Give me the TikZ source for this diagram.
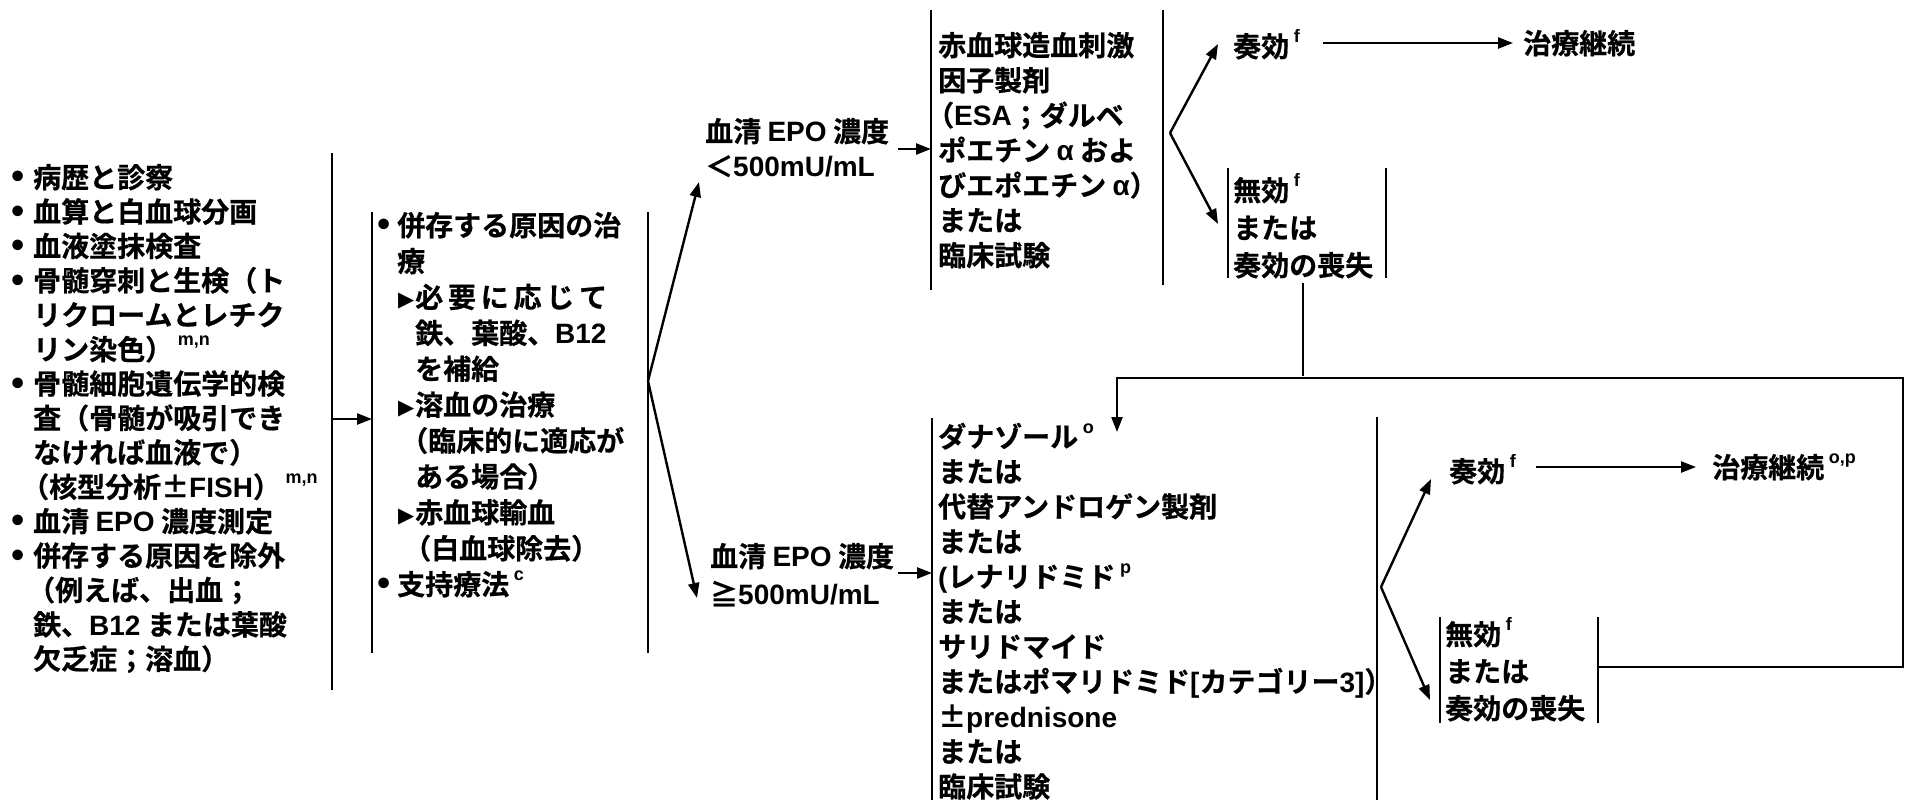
\documentclass[tikz,border=0pt]{standalone}
\usepackage{fontspec}
\setmainfont{Noto Sans CJK JP}[BoldFont={Noto Sans CJK JP Bold}, BoldFeatures={FakeBold=0.6}]
\newfontfamily\latf{Liberation Sans}[BoldFont={Liberation Sans Bold}]
\newfontfamily\dvf{DejaVu Sans}
\usetikzlibrary{arrows.meta}
\newcommand\la[1]{{\latf\bfseries #1}}
\newcommand\sups[1]{\,\raisebox{0.5em}{\latf\bfseries\fontsize{18}{18}\selectfont #1}}
\newcommand\mystrut{\rule{0pt}{24pt}}
\newcommand\mybul[1]{\mystrut\makebox[#1][l]{\hspace*{-2pt}\dvf\bfseries\fontsize{30}{30}\selectfont •}}
\newcommand\myind[1]{\mystrut\hspace*{#1}}
\newcommand\mytri{\mystrut\hspace*{22pt}\makebox[17pt][l]{\raisebox{1pt}{\dvf\fontsize{21}{21}\selectfont ▶}}}
\begin{document}
\begin{tikzpicture}[x=1pt,y=-1pt,
  txt/.style={anchor=north west, inner sep=0pt, align=left, font=\bfseries\fontsize{28}{35}\selectfont},
  bar/.style={line width=2.4pt},
  arr/.style={line width=2.4pt, -{Triangle[length=15pt,width=11pt]}}]
\useasboundingbox (0,0) rectangle (1916,800);

% ---- text nodes ----
\node[txt, font=\bfseries\fontsize{28}{34.4}\selectfont] (pre) at (10,163.6) {%
\mybul{23pt}病歴と診察\\
\mybul{23pt}血算と白血球分画\\
\mybul{23pt}血液塗抹検査\\
\mybul{23pt}骨髄穿刺と生検（ト\\
\myind{23pt}リクロームとレチク\\
\myind{23pt}リン染色）\sups{m,n}\\
\mybul{23pt}骨髄細胞遺伝学的検\\
\myind{23pt}査（骨髄が吸引でき\\
\myind{23pt}なければ血液で）\\
\myind{11pt}（核型分析±\la{FISH}）\sups{m,n}\\
\mybul{23pt}血清 \la{EPO} 濃度測定\\
\mybul{23pt}併存する原因を除外\\
\myind{17pt}（例えば、出血；\\
\myind{23pt}鉄、\la{B12} または葉酸\\
\myind{23pt}欠乏症；溶血）};

\node[txt, font=\bfseries\fontsize{28}{35.9}\selectfont] (tx) at (376,211.6) {%
\mybul{21pt}併存する原因の治\\
\myind{21pt}療\\
\mytri\makebox[192pt][s]{必\hfill 要\hfill に\hfill 応\hfill じ\hfill て}\\
\myind{39pt}鉄、葉酸、\la{B12}\\
\myind{39pt}を補給\\
\mytri 溶血の治療\\
\myind{24pt}（臨床的に適応が\\
\myind{39pt}ある場合）\\
\mytri 赤血球輸血\\
\myind{27pt}（白血球除去）\\
\mybul{21pt}支持療法\sups{c}};

\node[txt] (epoL) at (705,117.6) {\mystrut 血清 \la{EPO} 濃度\\ \mystrut＜\la{500mU/mL}};
\node[txt, font=\bfseries\fontsize{28}{38}\selectfont] (epoH) at (710,542.6) {\mystrut 血清 \la{EPO} 濃度\\ \mystrut≧\la{500mU/mL}};

\node[txt] (esa) at (938,31.6) {%
\mystrut 赤血球造血刺激\\
因子製剤\\
\hspace*{-12pt}（\la{ESA}；ダルベ\\
ポエチン \la{α} およ\\
びエポエチン \la{α}）\\
または\\
臨床試験};

\node[txt] (resp1) at (1233,29.6) {\mystrut 奏効\sups{f}};
\node[txt] (cont1) at (1523,29.6) {\mystrut 治療継続};
\node[txt, font=\bfseries\fontsize{28}{37.5}\selectfont] (fail1) at (1233,173.6) {\mystrut 無効\sups{f}\\ または\\ 奏効の喪失};

\node[txt] (alt) at (938,422.6) {%
\mystrut ダナゾール\sups{o}\\
または\\
代替アンドロゲン製剤\\
または\\
\la{(}レナリドミド\sups{p}\\
または\\
サリドマイド\\
またはポマリドミド\la{[}カテゴリー\la{3]}）\\
±\la{prednisone}\\
または\\
臨床試験};

\node[txt] (resp2) at (1449,454.6) {\mystrut 奏効\sups{f}};
\node[txt] (cont2) at (1712,453.6) {\mystrut 治療継続\sups{o,p}};
\node[txt, font=\bfseries\fontsize{28}{37}\selectfont] (fail2) at (1445,617.6) {\mystrut 無効\sups{f}\\ または\\ 奏効の喪失};

% ---- coordinates ----
\coordinate (b1t) at (332,153);  \coordinate (b1b) at (332,690);
\coordinate (b1m) at (332,419);
\coordinate (b2t) at (372,212);  \coordinate (b2b) at (372,653);
\coordinate (b2m) at (372,419);
\coordinate (b3t) at (648,212);  \coordinate (b3b) at (648,653);
\coordinate (f1) at (648,381);
\coordinate (f1u) at (699,182);  \coordinate (f1d) at (697,598);
\coordinate (a1s) at (898,149);  \coordinate (a1e) at (931,149);
\coordinate (b4t) at (931,10);   \coordinate (b4b) at (931,290);
\coordinate (b5t) at (1163,10);  \coordinate (b5b) at (1163,285);
\coordinate (f2) at (1170,133);
\coordinate (f2u) at (1218,44);  \coordinate (f2d) at (1218,224);
\coordinate (r1s) at (1323,43);  \coordinate (r1e) at (1513,43);
\coordinate (bf1lt) at (1228,168); \coordinate (bf1lb) at (1228,278);
\coordinate (bf1rt) at (1386,168); \coordinate (bf1rb) at (1386,278);
\coordinate (dn1) at (1303,283); \coordinate (dn2) at (1303,376);
\coordinate (lpR) at (1903,378); \coordinate (lpL) at (1117,378);
\coordinate (lpB) at (1903,667); \coordinate (lpS) at (1598,667);
\coordinate (lpE) at (1117,432);
\coordinate (a2s) at (898,573);  \coordinate (a2e) at (932,573);
\coordinate (b6t) at (932,418);  \coordinate (b6b) at (932,800);
\coordinate (b7t) at (1377,417); \coordinate (b7b) at (1377,800);
\coordinate (f3) at (1381,587);
\coordinate (f3u) at (1431,479); \coordinate (f3d) at (1430,700);
\coordinate (r2s) at (1536,467); \coordinate (r2e) at (1696,467);
\coordinate (bf2lt) at (1440,617); \coordinate (bf2lb) at (1440,723);
\coordinate (bf2rt) at (1598,617); \coordinate (bf2rb) at (1598,723);

% ---- bars ----
\draw[bar] (b1t) -- (b1b);
\draw[bar] (b2t) -- (b2b);
\draw[bar] (b3t) -- (b3b);
\draw[bar] (b4t) -- (b4b);
\draw[bar] (b5t) -- (b5b);
\draw[bar] (bf1lt) -- (bf1lb);
\draw[bar] (bf1rt) -- (bf1rb);
\draw[bar] (b6t) -- (b6b);
\draw[bar] (b7t) -- (b7b);
\draw[bar] (bf2lt) -- (bf2lb);
\draw[bar] (bf2rt) -- (bf2rb);

% ---- connectors ----
\draw[arr] (b1m) -- (b2m);
\draw[arr] (f1) -- (f1u);
\draw[arr] (f1) -- (f1d);
\draw[arr] (a1s) -- (a1e);
\draw[arr] (a2s) -- (a2e);
\draw[arr] (f2) -- (f2u);
\draw[arr] (f2) -- (f2d);
\draw[arr] (r1s) -- (r1e);
\draw[bar] (dn1) -- (dn2);
\draw[arr, line join=miter] (lpS) -- (lpB) -- (lpR) -- (lpL) -- (lpE);
\draw[arr] (f3) -- (f3u);
\draw[arr] (f3) -- (f3d);
\draw[arr] (r2s) -- (r2e);
\end{tikzpicture}
\end{document}
